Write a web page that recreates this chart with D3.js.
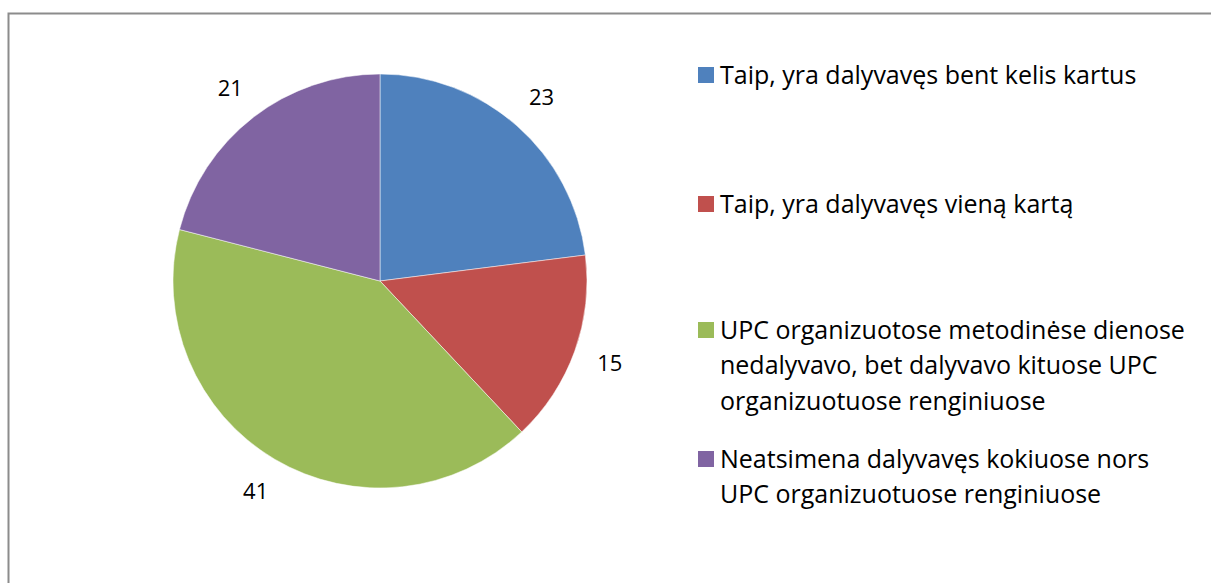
<!DOCTYPE html>
<html>
<head>
<meta charset="utf-8">
<script src="https://cdn.jsdelivr.net/npm/d3@7"></script>
<style>
  body { margin: 0; background: #fff; }
  text { font-family: "Open Sans", sans-serif; fill: #000; }
</style>
</head>
<body>
<svg id="chart" width="1211" height="583"></svg>
<script>
// pie of survey answers, values
var categories = [
  "Taip, yra dalyvavęs bent kelis kartus",
  "Taip, yra dalyvavęs vieną kartą",
  "UPC organizuotose metodinėse dienose nedalyvavo, bet dalyvavo kituose UPC organizuotuose renginiuose",
  "Neatsimena dalyvavęs kokiuose nors UPC organizuotuose renginiuose"
];
var values = [23, 15, 41, 21];
var legendLines = [
  ["Taip, yra dalyvavęs bent kelis kartus"],
  ["Taip, yra dalyvavęs vieną kartą"],
  ["UPC organizuotose metodinėse dienose", "nedalyvavo, bet dalyvavo kituose UPC", "organizuotuose renginiuose"],
  ["Neatsimena dalyvavęs kokiuose nors", "UPC organizuotuose renginiuose"]
];
var colors = ["#4F81BD", "#C0504D", "#9BBB59", "#8064A2"];

var svg = d3.select("#chart");

// chart frame
svg.append("rect")
  .attr("x", 8.5).attr("y", 13.5)
  .attr("width", 1210).attr("height", 600)
  .attr("fill", "none").attr("stroke", "#8c8c8c").attr("stroke-width", 2);

var cx = 380, cy = 281, radius = 207;
var g = svg.append("g").attr("transform", "translate(" + cx + "," + cy + ")");

var color = d3.scaleOrdinal().domain(categories).range(colors);
var pie = d3.pie().sort(null).value(function(d) { return d.value; });
var data = pie(categories.map(function(c, i) { return { name: c, value: values[i] }; }));

var arc = d3.arc().innerRadius(0).outerRadius(radius);
var labelArc = d3.arc().innerRadius(radius * 1.18).outerRadius(radius * 1.18);

g.selectAll("path.slice").data(data).enter().append("path")
  .attr("class", "slice")
  .attr("d", arc)
  .attr("fill", function(d) { return color(d.data.name); })
  .attr("stroke", "#ffffff").attr("stroke-width", 0.5);

g.selectAll("text.lbl").data(data).enter().append("text")
  .attr("class", "lbl")
  .attr("transform", function(d) {
    var p = labelArc.centroid(d);
    return "translate(" + p[0] + "," + p[1] + ")";
  })
  .attr("text-anchor", "middle")
  .attr("dy", "0.35em")
  .attr("font-size", 22)
  .text(function(d) { return d.data.value; });

// legend
var legendY = [75, 204, 330, 459];
var lineH = 35.5;
var lg = svg.append("g");
categories.forEach(function(c, i) {
  lg.append("rect")
    .attr("x", 698).attr("y", legendY[i] - 8)
    .attr("width", 16).attr("height", 16)
    .attr("fill", colors[i]);
  var t = lg.append("text")
    .attr("x", 720).attr("y", legendY[i])
    .attr("font-size", 25);
  legendLines[i].forEach(function(line, j) {
    t.append("tspan")
      .attr("x", 720).attr("y", legendY[i] + j * lineH)
      .attr("dy", "0.35em")
      .text(line);
  });
});
</script>
</body>
</html>
